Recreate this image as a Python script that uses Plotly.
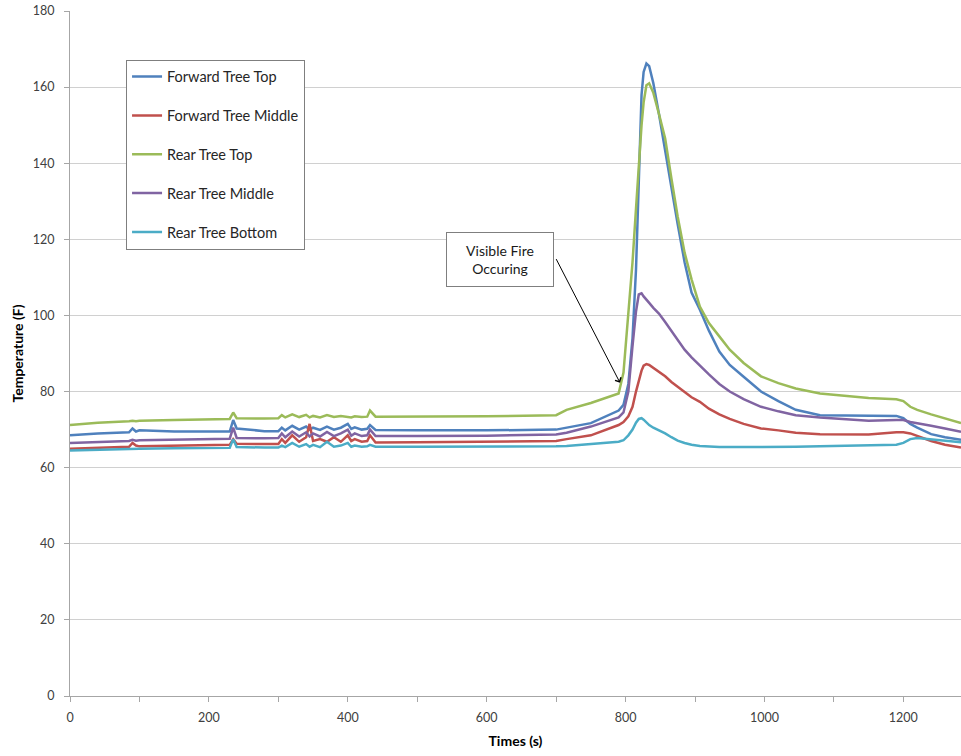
import plotly.graph_objects as go

time_s = [0, 40, 85, 90, 95, 100, 150, 200, 230, 235, 240, 280, 300, 305, 310, 320, 330, 340, 345, 350,
          360, 370, 380, 390, 400, 405, 410, 420, 428, 432, 440, 500, 600, 700,
          715, 750, 790, 797, 804, 810, 815, 819, 823, 826, 830, 834, 840, 848, 857, 866, 875, 885, 895, 907,
          920, 935, 950, 970, 995, 1020, 1045, 1080, 1120, 1150, 1190, 1200, 1210, 1220, 1240, 1260, 1283]

forward_top = [68.5, 69.0, 69.3, 70.3, 69.5, 69.8, 69.5, 69.5, 69.5, 72.5, 70.3, 69.6, 69.6, 70.5, 69.8, 71.0, 70.0, 70.8, 70.0, 70.5,
               69.9, 70.8, 70.0, 70.5, 71.5, 70.2, 70.6, 70.0, 70.2, 71.2, 69.9, 69.8, 69.8, 70.0,
               70.5, 71.7, 75.0, 76.5, 82.0, 94.0, 112.0, 138.0, 158.0, 164.0, 166.2, 165.5, 161.0, 153.0, 143.0, 133.0, 124.0, 114.0, 106.0, 101.5,
               96.0, 90.5, 87.0, 83.9, 80.0, 77.5, 75.2, 73.8, 73.7, 73.7, 73.6, 73.0, 71.5, 70.5, 68.8, 68.0, 67.3]

forward_mid = [65.0, 65.3, 65.5, 66.5, 65.8, 65.6, 65.8, 66.0, 66.0, 67.5, 66.3, 66.2, 66.2, 67.5, 66.5, 68.5, 66.8, 68.0, 71.5, 67.0,
               67.5, 66.8, 68.0, 66.8, 68.5, 67.0, 67.5, 66.8, 67.0, 68.5, 66.6, 66.7, 66.8, 67.0,
               67.5, 68.5, 71.2, 72.0, 73.5, 76.0, 80.0, 83.0, 85.5, 86.8, 87.2, 87.0, 86.2, 85.3, 84.0, 82.5, 81.2, 80.0, 78.5, 77.3,
               75.5, 74.0, 72.8, 71.5, 70.3, 69.8, 69.2, 68.8, 68.7, 68.7, 69.3, 69.3, 69.0, 68.3, 67.0, 66.0, 65.3]

rear_top = [71.2, 71.8, 72.2, 72.3, 72.2, 72.3, 72.5, 72.7, 72.8, 74.5, 73.0, 72.9, 73.0, 73.8, 73.2, 74.0, 73.3, 73.9, 73.2, 73.6,
            73.2, 73.8, 73.3, 73.6, 73.4, 73.2, 73.5, 73.3, 73.4, 75.0, 73.4, 73.4, 73.5, 73.8,
            75.2, 77.0, 79.5, 85.0, 100.0, 114.0, 128.0, 140.0, 150.0, 156.0, 160.5, 161.0, 158.5, 153.0, 146.5, 136.0, 126.0, 116.5, 109.5, 102.3,
            98.0, 94.5, 91.0, 87.5, 84.0, 82.2, 80.8, 79.5, 78.7, 78.3, 78.0, 77.5, 76.0, 75.2, 74.0, 73.0, 71.7]

rear_mid = [66.5, 66.8, 67.0, 67.3, 67.1, 67.2, 67.3, 67.5, 67.6, 70.5, 67.8, 67.7, 67.8, 69.0, 68.0, 69.5, 68.2, 69.3, 68.2, 69.0,
            68.2, 69.4, 68.3, 69.0, 70.0, 68.4, 69.0, 68.3, 68.5, 70.0, 68.3, 68.3, 68.4, 68.7,
            69.2, 70.8, 73.2, 74.5, 80.0, 92.0, 101.0, 105.5, 105.8, 105.0, 104.0, 103.3, 102.0, 100.5, 98.3, 96.0, 93.5, 91.0, 89.0, 86.8,
            84.5, 82.0, 80.0, 78.0, 76.0, 74.8, 73.8, 73.2, 72.7, 72.3, 72.5, 72.5, 72.0, 71.6, 71.0, 70.3, 69.4]

rear_bottom = [64.5, 64.7, 64.9, 65.0, 64.9, 65.0, 65.1, 65.2, 65.2, 67.5, 65.4, 65.3, 65.3, 65.8, 65.4, 66.5, 65.5, 66.2, 65.5, 66.0,
               65.4, 66.8, 65.5, 65.8, 66.5, 65.5, 65.8, 65.5, 65.6, 66.0, 65.5, 65.5, 65.5, 65.6,
               65.7, 66.2, 66.8, 67.2, 68.5, 70.0, 71.8, 72.8, 73.0, 72.6, 71.8, 71.2, 70.5, 69.8, 69.0, 68.0, 67.1, 66.5, 66.0, 65.7,
               65.5, 65.4, 65.4, 65.4, 65.4, 65.4, 65.5, 65.6, 65.7, 65.8, 66.0, 66.5, 67.5, 67.8, 67.5, 67.0, 66.7]

series_names = ["Forward Tree Top", "Forward Tree Middle", "Rear Tree Top", "Rear Tree Middle", "Rear Tree Bottom"]
series_values = [forward_top, forward_mid, rear_top, rear_mid, rear_bottom]
series_colors = ["#4F81BD", "#C0504D", "#9BBB59", "#8064A2", "#4BACC6"]

x_tick_vals = [0, 100, 200, 300, 400, 500, 600, 700, 800, 900, 1000, 1100, 1200]
x_tick_text = ["0", "", "200", "", "400", "", "600", "", "800", "", "1000", "", "1200"]
y_tick_vals = [0, 20, 40, 60, 80, 100, 120, 140, 160, 180]

FONT = "Lato, Open Sans, sans-serif"

fig = go.Figure()
for name, vals, col in zip(series_names, series_values, series_colors):
    fig.add_trace(go.Scatter(x=time_s, y=vals, mode="lines", name=name, legendgroup=name,
                             line=dict(color=col, width=2.5)))

# annotation: text box and arrow
fig.add_annotation(x=619, y=114.8, xref="x", yref="y", text="Visible Fire<br>Occuring", showarrow=False,
                   font=dict(family=FONT, size=14, color="#1a1a1a"), bgcolor="white",
                   bordercolor="#7f7f7f", borderwidth=1, width=104, height=51, align="center")
fig.add_annotation(x=792, y=82.3, xref="x", yref="y", ax=699, ay=115.2, axref="x", ayref="y",
                   text="", showarrow=True, arrowhead=4, arrowsize=1.3, arrowwidth=1, arrowcolor="#000000")

fig.update_layout(
    width=961, height=756,
    margin=dict(l=70, r=0, t=11, b=60),
    plot_bgcolor="white", paper_bgcolor="white",
    font=dict(family=FONT, size=12, color="#404040"),
    showlegend=True,
    legend=dict(x=0.0629, y=0.929, xanchor="left", yanchor="top", bgcolor="white",
                bordercolor="#7f7f7f", borderwidth=1, tracegroupgap=17,
                font=dict(family=FONT, size=14.5, color="#262626"), itemwidth=30),
    xaxis=dict(range=[0, 1283], tickmode="array", tickvals=x_tick_vals, ticktext=x_tick_text,
               showgrid=False, zeroline=False, showline=True, linecolor="#a6a6a6", linewidth=1,
               ticks="outside", ticklen=5, tickcolor="#a6a6a6", ticklabelstandoff=5,
               tickfont=dict(family=FONT, size=12.5, color="#404040"),
               title=dict(text="<b>Times (s)</b>", font=dict(family=FONT, size=14, color="#000000"), standoff=12)),
    yaxis=dict(range=[0, 180], tickmode="array", tickvals=y_tick_vals,
               showgrid=True, gridcolor="#d0d0d0", gridwidth=1, zeroline=False,
               showline=True, linecolor="#a6a6a6", linewidth=1,
               ticks="outside", ticklen=5, tickcolor="#a6a6a6", ticklabelstandoff=7,
               tickfont=dict(family=FONT, size=12.5, color="#404040"),
               title=dict(text="<b>Temperature (F)</b>", font=dict(family=FONT, size=14, color="#000000"), standoff=5)),
)

fig.write_html("out.html")
